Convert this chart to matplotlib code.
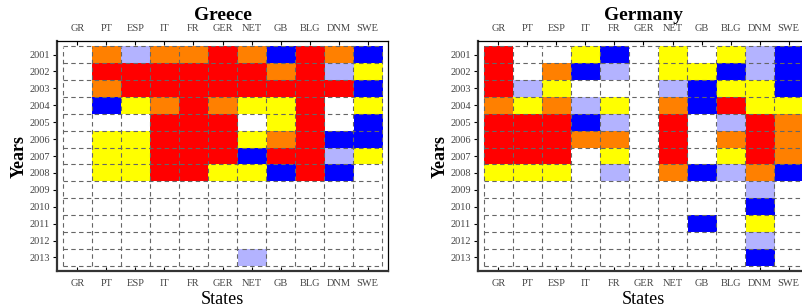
import matplotlib
matplotlib.use("Agg")
import matplotlib.pyplot as plt
import numpy as np
from matplotlib.colors import ListedColormap, BoundaryNorm

# koder: W vit, L ljusblå, B blå, Y gul, O orange, R röd
states = ["GR", "PT", "ESP", "IT", "FR", "GER", "NET", "GB", "BLG", "DNM", "SWE"]
years = [str(y) for y in range(2001, 2014)]

greece = [
    "W O L O O R O B R O B",
    "W R R R R R R O R L Y",
    "W O R R R R R R R R B",
    "W B Y O R O Y Y R W Y",
    "W W W R R R W Y R W B",
    "W Y Y R R R Y O R B B",
    "W Y Y R R R B R R L Y",
    "W Y Y R R Y Y B R B W",
    "W W W W W W W W W W W",
    "W W W W W W W W W W W",
    "W W W W W W W W W W W",
    "W W W W W W W W W W W",
    "W W W W W W L W W W W",
]

germany = [
    "R W W Y B W Y W Y L B",
    "R W O B L W Y Y B L B",
    "R L Y W W W L B Y Y B",
    "O Y O L Y W O B R Y Y",
    "R R R B L W R W L R O",
    "R R R O O W R W O R O",
    "R R R W Y W R W Y R O",
    "Y Y Y W L W O B L O B",
    "W W W W W W W W W L W",
    "W W W W W W W W W B W",
    "W W W W W W W B W Y W",
    "W W W W W W W W W L W",
    "W W W W W W W W W B W",
]

codes = "WLBYOR"
colors = ["#ffffff", "#b3b3ff", "#0000ff", "#ffff00", "#ff8000", "#ff0000"]
cmap = ListedColormap(colors)
norm = BoundaryNorm(np.arange(-0.5, 6.5, 1), cmap.N)


def to_matrix(rows):
    return np.array([[codes.index(c) for c in r.split()] for r in rows])


plt.rcParams["font.family"] = ["Liberation Serif", "DejaVu Serif"]

fig = plt.figure(figsize=(8.02, 3.08), dpi=100)
ax1 = fig.add_axes([57 / 802, 37 / 308, 331 / 802, 230 / 308])
ax2 = fig.add_axes([478 / 802, 37 / 308, 331 / 802, 230 / 308])


def panel(ax, data, title):
    m = to_matrix(data)
    ax.imshow(m, cmap=cmap, norm=norm, aspect="auto", interpolation="nearest")
    ax.set_xlim(-0.7, len(states) - 0.3)
    ax.set_ylim(len(years) - 0.2, -0.8)
    for x in np.arange(-0.5, len(states), 1):
        ax.axvline(x, color="#666666", lw=0.8, ls=(0, (4, 3)), ymin=0.02, ymax=0.975)
    for y in np.arange(-0.5, len(years), 1):
        ax.axhline(y, color="#666666", lw=0.8, ls=(0, (4, 3)), xmin=0.017, xmax=0.983)
    ax.set_xticks(range(len(states)))
    ax.set_xticklabels(states)
    ax.set_yticks(range(len(years)))
    ax.set_yticklabels(years)
    ax.tick_params(axis="x", top=True, labeltop=True, direction="in", length=3,
                   labelsize=7.5, labelcolor="#444444", pad=6)
    ax.tick_params(axis="y", direction="out", length=3, labelsize=7.5,
                   labelcolor="#444444", pad=2)
    for s in ["left", "bottom"]:
        ax.spines[s].set_linewidth(1.6)
        ax.spines[s].set_color("#333333")
    for s in ["top", "right"]:
        ax.spines[s].set_linewidth(0.9)
        ax.spines[s].set_color("black")
    # titeln placeras för hand, ovanför de övre etiketterna
    ax.text(0.5, 1.0 + 26 / 230, title, transform=ax.transAxes, ha="center",
            va="center", fontsize=14, fontweight="bold")
    ax.set_ylabel("Years", fontsize=13, fontweight="bold", labelpad=1)
    ax.set_xlabel("States", fontsize=13, labelpad=2)


panel(ax1, greece, "Greece")
panel(ax2, germany, "Germany")

fig.savefig("out.png", dpi=100)
